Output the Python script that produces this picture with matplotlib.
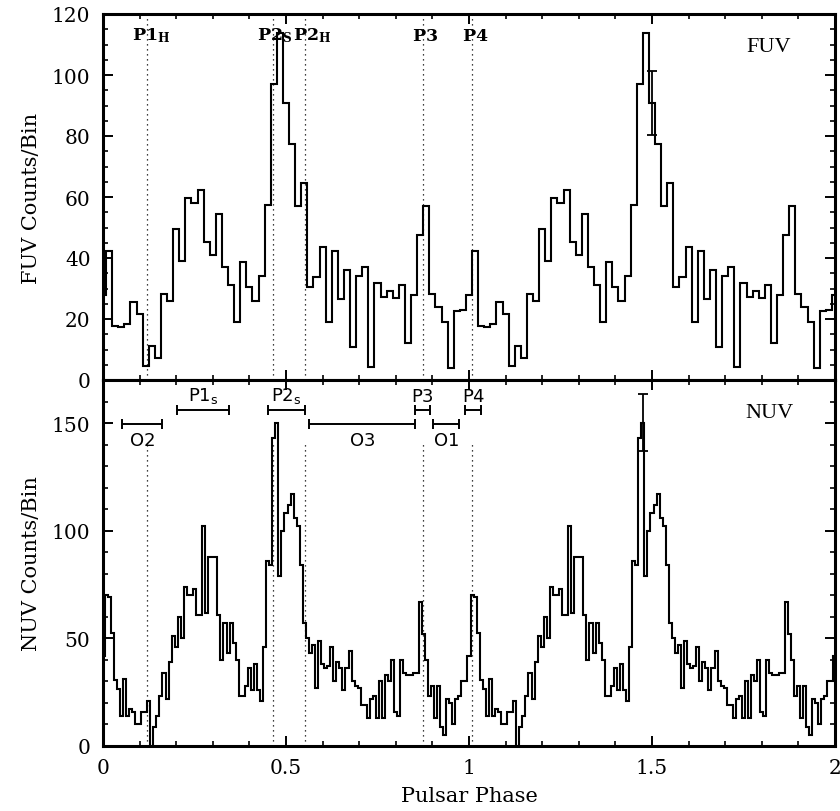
import numpy as np
import matplotlib
matplotlib.use("Agg")
import matplotlib.pyplot as plt
from matplotlib.ticker import MultipleLocator, FuncFormatter

# ---------------- data (one pulse cycle, plotted twice) ----------------
fuv_counts = [28, 42.4, 17.8, 17.3, 18.4, 25.5, 21.6, 4.7, 11.2, 7.1,
              28.2, 26, 49.5, 39.1, 59.6, 57.9, 62.4, 45.4, 41, 54.4,
              36.9, 31.1, 19.1, 38.6, 30.4, 26, 34.2, 57.5, 97, 113.8,
              90.8, 77.4, 57.2, 64.5, 30.4, 33.7, 43.5, 19.1, 42.4, 26.6,
              36.2, 10.7, 34.2, 36.9, 4.2, 31.8, 27.1, 29.3, 26.8, 31.1,
              12.1, 27.9, 47.5, 57.2, 28.2, 23.8, 19.1, 3.8, 22.7, 23]

nuv_counts = [42, 70, 69, 52.5, 30.7, 26.5, 14.1, 31, 14, 17,
              16, 10, 10, 16, 16, 21, 0, 9, 14, 23,
              34, 22, 39, 51, 46, 60, 50, 74, 70, 70,
              73, 61, 61, 102, 62, 88, 88, 88, 61, 40,
              57, 43, 57, 48, 40, 23, 23, 28, 36, 26,
              38, 26, 21, 46, 86, 84, 143, 150, 79, 100,
              108, 112, 117, 106, 102, 84, 57, 50, 43, 47,
              27, 49, 38, 36, 37, 46, 30, 39, 36, 26,
              36, 44, 30, 28, 27, 19, 19, 13, 22, 23,
              13, 30, 13, 33, 30, 40, 16, 14, 40, 34,
              33, 33, 34, 34, 67, 52, 40, 23, 28, 13,
              28, 9, 5, 22, 20, 10, 22, 23, 30, 30]

# error bars shown on one bin of each profile
fuv_err_phase, fuv_err_value, fuv_err_size = 1.5, 90.9, 10.5
nuv_err_phase, nuv_err_value, nuv_err_size = 1.475, 150.3, 13.2

# peak phases (dotted lines) and their labels
peak_phases = [0.12, 0.465, 0.551, 0.873, 1.007]
peak_labels = [r'$\mathbf{P1_H}$', r'$\mathbf{P2_S}$', r'$\mathbf{P2_H}$',
               r'$\mathbf{P3}$', r'$\mathbf{P4}$']
peak_label_x = [0.078, 0.421, 0.518, 0.843, 0.980]

# phase ranges in the NUV panel
range_labels = ['O2', 'P1_s', 'P2_s', 'O3', 'P3', 'O1', 'P4']
range_start = [0.051, 0.203, 0.451, 0.562, 0.853, 0.902, 0.990]
range_end = [0.162, 0.344, 0.551, 0.853, 0.893, 0.972, 1.033]

x_ticks = [0, 0.5, 1, 1.5, 2]

# ---------------- figure ----------------
plt.rcParams['font.family'] = ['DejaVu Serif']
plt.rcParams['mathtext.fontset'] = 'dejavuserif'

W, H = 840, 812
fig = plt.figure(figsize=(W / 100, H / 100), dpi=100)
ax1 = fig.add_axes([103 / W, 1 - 381 / H, 732 / W, 366 / H])
ax2 = fig.add_axes([103 / W, 1 - 747 / H, 732 / W, 366 / H])


def profile(counts):
    c = np.asarray(counts, dtype=float)
    n = len(c)
    vals = np.concatenate([c, c, c[:1]])
    edges = (np.arange(len(vals) + 1) - 0.5) / n
    return vals, edges


for ax, counts in ((ax1, fuv_counts), (ax2, nuv_counts)):
    vals, edges = profile(counts)
    ax.stairs(vals, edges, baseline=None, color='k', linewidth=1.5)

ax1.errorbar([fuv_err_phase], [fuv_err_value], yerr=[fuv_err_size],
             fmt='none', ecolor='k', elinewidth=1.3, capsize=3.5, capthick=1.3)
ax2.errorbar([nuv_err_phase], [nuv_err_value], yerr=[nuv_err_size],
             fmt='none', ecolor='k', elinewidth=1.3, capsize=3.5, capthick=1.3)

ax1.set_ylim(0, 120)
ax2.set_ylim(0, 170)

for ph in peak_phases:
    ax1.plot([ph, ph], [0, 120], ls=(0, (1, 3)), color='k', lw=0.9)
    ax2.plot([ph, ph], [0, 141], ls=(0, (1, 3)), color='k', lw=0.9)

for lab, x in zip(peak_labels, peak_label_x):
    ax1.text(x, 111.6, lab, fontsize=12.5, ha='left', va='baseline')

for lab, a, b in zip(range_labels, range_start, range_end):
    c = 0.5 * (a + b)
    if lab.startswith('O'):
        y, ty, va = 149.6, 146.5, 'top'
    else:
        y, ty, va = 156.0, 158.5, 'bottom'
    txt = r'$\mathsf{' + lab + '}$'
    ax2.errorbar([c], [y], xerr=[0.5 * (b - a)], fmt='none', ecolor='k',
                 elinewidth=1.4, capsize=3.5, capthick=1.4)
    ax2.text(c, ty, txt, fontsize=13, ha='center', va=va)

ax1.text(1.82, 109.3, 'FUV', fontsize=16, ha='center', va='center',
         family='Liberation Serif')
ax2.text(1.82, 155, 'NUV', fontsize=16, ha='center', va='center',
         family='Liberation Serif')

for ax in (ax1, ax2):
    ax.set_xlim(0, 2)
    ax.xaxis.set_major_locator(MultipleLocator(0.5))
    ax.xaxis.set_minor_locator(MultipleLocator(0.1))
    ax.tick_params(which='both', direction='in', top=True, right=True,
                   labelsize=14.5, pad=9)
    ax.tick_params(which='major', length=7.5, width=1.4)
    ax.tick_params(which='minor', length=3.8, width=1.2)
    for s in ax.spines.values():
        s.set_linewidth(2.2)

ax1.yaxis.set_major_locator(MultipleLocator(20))
ax1.yaxis.set_minor_locator(MultipleLocator(5))
ax2.yaxis.set_major_locator(MultipleLocator(50))
ax2.yaxis.set_minor_locator(MultipleLocator(10))
ax1.tick_params(axis='x', labelbottom=False)
ax2.set_xticks(x_ticks)
ax2.xaxis.set_major_formatter(FuncFormatter(lambda v, p: '%g' % v))

ax1.set_ylabel('FUV Counts/Bin', fontsize=15, labelpad=8)
ax2.set_ylabel('NUV Counts/Bin', fontsize=15, labelpad=8)
ax2.set_xlabel('Pulsar Phase', fontsize=15, labelpad=6)

fig.savefig('out.png', dpi=100)
